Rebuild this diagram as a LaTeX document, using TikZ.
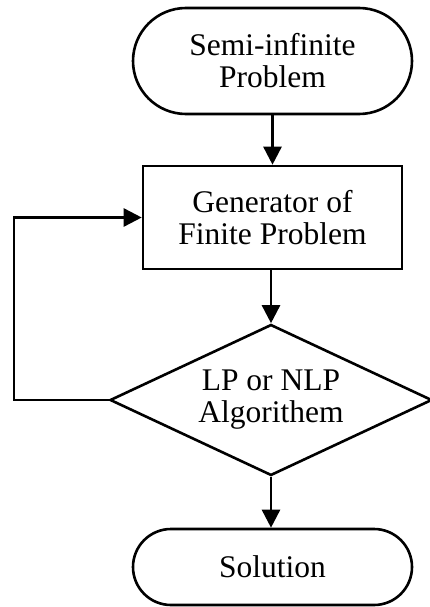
\documentclass[tikz,border=0pt]{standalone}
\usepackage{fontspec}
\setmainfont{Liberation Serif}
\usetikzlibrary{shapes.geometric,arrows.meta}
\begin{document}
\begin{tikzpicture}[x=1pt,y=1pt,
  every node/.style={font=\fontsize{31.5}{32}\selectfont, align=center, line width=2.6pt},
  term/.style={draw, rectangle, minimum width=279pt, inner sep=0pt},
  procbox/.style={draw, rectangle, minimum width=259pt, minimum height=103pt, inner sep=0pt},
  decide/.style={draw, diamond, minimum width=322pt, minimum height=151pt, inner sep=0pt, aspect=2.13},
  flow/.style={line width=2.6pt, -{Triangle[length=18pt,width=18pt]}}]
\useasboundingbox (0,0) rectangle (430,-607);
\node[term, minimum height=106pt, rounded corners=53pt] (start) at (272.5,-61) {Semi-infinite\\Problem};
\node[procbox] (gen) at (272.5,-217.5) {Generator of\\Finite Problem};
\node[decide] (alg) at (271,-400) {LP or NLP\\Algorithem};
\node[term, minimum height=76pt, rounded corners=38pt] (sol) at (272.5,-567) {Solution};
\coordinate (lb) at (14,-400);
\coordinate (lt) at (14,-217.5);
\draw[flow] (start) -- (gen);
\draw[flow] (gen.south -| alg.north) -- (alg.north);
\draw[flow] (alg.south) -- (alg.south |- sol.north);
\draw[flow] (alg.west) -- (lb) -- (lt) -- (gen.west);
\end{tikzpicture}
\end{document}
